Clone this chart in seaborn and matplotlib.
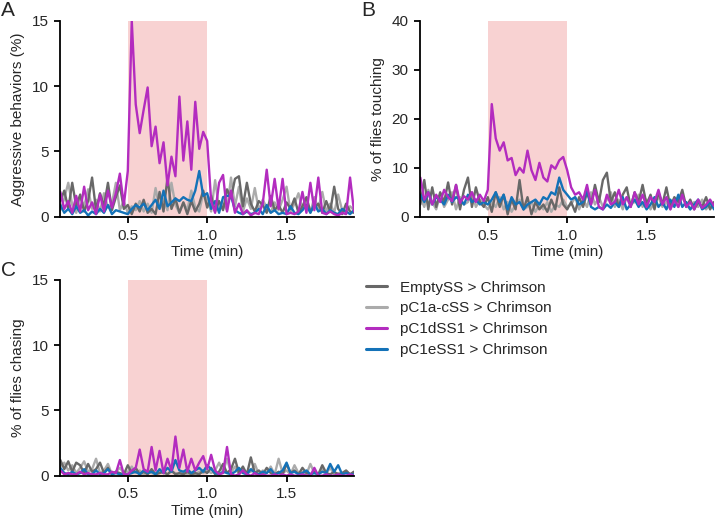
import numpy as np
import pandas as pd
import seaborn as sns
import matplotlib.pyplot as plt

# time axis (min), one sample every 1.5 s
time_min = np.round(np.linspace(0.075, 1.925, 75), 3)
stim_window = (0.5, 1.0)

genotypes = ["EmptySS > Chrimson", "pC1a-cSS > Chrimson",
             "pC1dSS1 > Chrimson", "pC1eSS1 > Chrimson"]

# A: aggressive behaviors (%)
agg_empty = [1.2, 2.0, 0.6, 2.6, 0.8, 1.7, 0.4, 1.2, 3.0, 0.5, 1.8, 0.8, 2.6, 0.5, 1.5, 2.4, 0.6,
             0.9, 0.2, 1.0, 0.4, 1.3, 0.3, 0.6, 0.2, 1.9, 0.4, 3.0, 0.6, 1.4, 0.3, 1.1, 0.2, 1.2, 0.4, 1.0, 2.0, 0.7,
             1.6, 0.4, 1.2, 0.5, 2.1, 1.4, 2.9, 3.1, 0.8, 2.6, 1.0, 0.4, 1.2, 0.9, 0.3, 1.6, 0.5, 0.9, 0.3,
             1.1, 0.6, 1.4, 0.3, 0.8, 1.5, 0.4, 0.7, 1.0, 0.3, 1.2, 0.4, 2.3, 0.6, 0.2, 1.0, 0.4, 0.3]
agg_pc1ac = [0.5, 1.4, 2.6, 0.9, 0.3, 1.6, 0.8, 2.1, 0.6, 1.3, 0.4, 1.8, 0.7, 1.0, 2.6, 0.5, 1.2,
             0.3, 0.8, 0.5, 1.2, 0.4, 1.0, 0.3, 2.2, 0.6, 1.4, 0.5, 2.6, 0.9, 0.3, 1.1, 0.5, 2.0, 0.7, 0.4, 1.8, 1.3,
             0.4, 2.8, 0.6, 1.0, 0.5, 3.0, 0.8, 2.3, 0.4, 1.4, 0.6, 2.2, 0.5, 1.3, 0.7, 0.3, 1.1, 0.5, 1.3,
             2.3, 0.4, 1.0, 1.8, 0.5, 1.2, 0.3, 1.5, 0.6, 1.9, 0.4, 1.0, 0.3, 1.7, 0.5, 0.3, 0.8, 0.5]
agg_pc1d = [1.9, 0.6, 1.2, 0.3, 1.6, 0.4, 2.3, 0.5, 1.1, 0.2, 1.7, 0.4, 2.0, 0.7, 1.8, 3.3, 0.9,
            3.5, 15.0, 8.6, 6.4, 8.2, 9.9, 5.4, 6.9, 4.1, 5.7, 2.4, 4.6, 3.1, 9.2, 4.3, 7.3, 3.6, 8.8, 5.2, 6.5, 5.8,
            1.2, 0.3, 2.6, 3.2, 0.4, 2.0, 0.3, 1.0, 0.2, 0.5, 0.1, 0.3, 0.2, 1.0, 3.6, 0.8, 2.9, 0.6, 2.9,
            0.2, 0.3, 0.2, 0.4, 1.9, 0.3, 2.6, 0.5, 3.0, 0.3, 0.2, 0.4, 0.2, 0.1, 0.3, 0.2, 3.0, 0.4]
agg_pc1e = [0.9, 0.3, 0.6, 0.2, 0.8, 0.3, 0.5, 0.1, 0.4, 0.2, 0.6, 0.3, 0.9, 0.2, 0.5, 0.4, 0.3,
            0.2, 0.6, 0.9, 0.7, 1.0, 0.5, 0.9, 1.3, 0.6, 2.0, 0.8, 1.1, 1.4, 1.2, 1.5, 1.3, 1.2, 2.0, 3.5, 1.6, 1.8,
            0.6, 1.2, 0.3, 1.5, 1.6, 1.6, 0.5, 0.3, 0.2, 0.4, 0.2, 0.3, 0.6, 0.2, 0.9, 0.3, 0.5, 0.2, 0.3,
            0.2, 0.8, 0.3, 0.2, 0.5, 0.9, 0.3, 1.0, 0.4, 0.6, 0.2, 0.5, 0.3, 0.2, 0.6, 0.4, 0.2, 0.5]

# B: % of flies touching
touch_empty = [2.5, 7.5, 1.5, 6.0, 2.0, 5.0, 3.0, 7.0, 2.5, 6.5, 1.5, 5.5, 8.0, 2.0, 6.0, 3.0, 2.0,
               4.0, 1.0, 5.0, 2.0, 4.5, 0.5, 3.5, 1.5, 7.5, 1.5, 4.0, 0.5, 3.0, 1.5, 2.5, 1.0, 3.5, 1.5, 6.0, 2.5, 1.5,
               3.0, 1.0, 4.0, 2.0, 5.0, 2.5, 6.5, 3.0, 7.5, 9.0, 3.0, 5.0, 2.0, 4.5, 6.0, 2.0, 5.0, 3.0, 6.5,
               2.5, 4.5, 1.5, 5.0, 2.5, 6.0, 2.0, 4.0, 3.0, 5.5, 2.0, 3.5, 1.5, 3.0, 2.0, 4.0, 1.5, 3.0]
touch_pc1ac = [4.0, 2.0, 5.5, 3.0, 1.5, 4.5, 2.0, 3.5, 5.0, 1.5, 4.0, 2.5, 3.0, 5.0, 2.0, 3.5, 2.5,
               1.5, 3.0, 2.0, 4.0, 1.5, 3.0, 1.0, 2.5, 3.5, 1.5, 2.0, 3.0, 1.0, 2.5, 1.5, 3.0, 1.0, 2.5, 2.0, 3.5, 2.0,
               2.5, 4.0, 1.5, 3.5, 2.0, 5.0, 2.5, 4.0, 2.0, 3.5, 5.0, 2.0, 3.5, 1.5, 4.0, 2.5, 3.0, 4.5, 2.0,
               3.5, 1.5, 3.0, 4.0, 2.0, 3.0, 1.5, 3.5, 2.0, 4.0, 2.5, 1.5, 3.0, 2.0, 3.5, 1.5, 2.5, 2.0]
touch_pc1d = [8.0, 3.5, 5.0, 2.5, 4.5, 3.0, 5.5, 4.0, 3.2, 6.5, 2.8, 4.2, 3.5, 5.0, 3.0, 4.5, 3.2,
              5.5, 23.0, 16.0, 13.5, 15.2, 11.5, 12.0, 8.5, 10.0, 9.0, 13.5, 9.5, 7.5, 11.0, 8.0, 7.2, 10.5, 9.8, 11.5, 12.2, 9.5,
              6.0, 4.5, 5.0, 3.5, 6.5, 2.5, 5.5, 2.0, 1.5, 4.5, 2.5, 3.0, 5.5, 2.5, 4.0, 2.0, 5.0, 2.5, 4.5,
              2.0, 4.0, 3.0, 5.5, 2.5, 4.0, 1.5, 3.5, 2.0, 4.5, 2.0, 3.0, 1.5, 3.5, 1.8, 2.5, 3.5, 2.2]
touch_pc1e = [4.5, 3.0, 5.0, 2.5, 4.0, 3.5, 2.5, 4.5, 3.0, 4.0, 3.5, 2.5, 4.5, 3.0, 3.5, 2.5, 3.0,
              2.5, 3.5, 5.0, 3.0, 4.5, 1.5, 4.0, 2.5, 3.0, 1.5, 2.5, 3.0, 3.5, 2.5, 4.0, 3.5, 5.0, 4.5, 8.0, 5.5, 4.5,
              3.5, 4.0, 2.5, 3.0, 5.5, 2.0, 1.5, 2.0, 1.5, 2.5, 1.8, 3.0, 2.0, 4.0, 1.5, 2.5, 3.5, 2.0, 3.0,
              1.5, 2.5, 4.0, 2.0, 3.0, 1.5, 3.5, 2.0, 4.5, 2.0, 3.0, 1.5, 2.5, 3.5, 1.5, 2.0, 3.0, 1.5]

# C: % of flies chasing
chase_empty = [1.2, 0.5, 1.1, 0.3, 1.0, 0.8, 0.2, 0.9, 0.3, 0.5, 1.0, 0.2, 0.6, 0.1, 0.3, 0.2, 0.1,
               0.8, 0.2, 0.6, 0.1, 0.3, 0.1, 0.5, 0.1, 0.2, 0.3, 0.1, 0.4, 0.1, 0.2, 0.1, 0.3, 0.1, 0.2, 0.1, 0.4, 0.2,
               0.6, 0.1, 0.3, 0.9, 0.2, 0.5, 1.3, 0.2, 0.7, 0.1, 1.4, 0.2, 0.4, 0.1, 0.6, 0.2, 0.1, 0.3, 0.1,
               0.9, 0.2, 0.4, 0.1, 0.6, 0.2, 0.1, 0.3, 0.1, 0.8, 0.2, 0.1, 0.3, 0.1, 0.2, 0.4, 0.1, 0.3]
chase_pc1ac = [0.7, 1.0, 0.4, 0.8, 0.2, 0.6, 1.1, 0.3, 0.5, 1.3, 0.2, 0.4, 0.9, 0.1, 0.3, 0.6, 0.2,
               0.3, 0.7, 0.2, 0.4, 0.1, 0.3, 0.2, 0.1, 0.4, 0.2, 0.1, 0.3, 0.2, 0.1, 0.3, 0.1, 0.2, 0.1, 0.3, 0.2, 0.4,
               0.2, 0.4, 1.0, 0.3, 1.3, 0.2, 0.7, 0.1, 0.5, 0.2, 0.3, 0.9, 0.1, 0.4, 0.2, 0.7, 0.1, 1.3, 0.2,
               0.4, 0.1, 0.8, 0.2, 0.3, 0.1, 0.9, 0.2, 0.1, 0.5, 0.2, 0.6, 0.1, 0.2, 0.1, 0.3, 0.1, 0.3]
chase_pc1d = [0.4, 0.1, 0.2, 0.1, 0.1, 0.3, 0.1, 0.2, 0.1, 0.1, 0.2, 0.1, 0.1, 0.3, 0.2, 1.2, 0.1,
              0.1, 0.4, 0.6, 2.0, 0.5, 0.3, 2.2, 0.4, 1.9, 0.2, 1.3, 0.4, 3.0, 0.6, 2.0, 0.3, 1.3, 0.4, 1.0, 1.5, 0.5,
              1.6, 0.4, 0.1, 0.2, 2.2, 0.1, 0.0, 0.1, 0.4, 0.1, 0.0, 0.2, 0.0, 0.1, 0.0, 0.0, 0.1, 0.0, 0.1,
              0.0, 0.1, 0.0, 0.0, 0.1, 0.0, 0.0, 0.6, 0.0, 0.0, 0.1, 0.0, 0.0, 0.1, 0.0, 0.0, 0.1, 0.0]
chase_pc1e = [0.6, 0.2, 0.1, 0.3, 0.1, 0.2, 0.5, 0.1, 0.1, 0.4, 0.1, 0.2, 0.5, 0.1, 0.2, 0.1, 0.1,
              0.1, 0.2, 0.3, 0.1, 0.4, 0.2, 0.3, 0.1, 0.5, 0.2, 0.6, 0.3, 1.2, 0.4, 0.3, 0.5, 0.2, 0.4, 0.6, 0.3, 0.8,
              0.5, 0.2, 0.1, 0.3, 0.2, 0.1, 0.3, 0.6, 0.2, 0.1, 0.5, 0.2, 0.1, 0.3, 0.2, 0.5, 0.1, 0.2, 0.4,
              1.0, 0.2, 0.3, 0.1, 0.2, 0.4, 0.1, 0.2, 0.1, 0.3, 0.2, 0.9, 0.3, 0.8, 0.1, 0.2, 0.1, 0.1]

palette = {"EmptySS > Chrimson": "#686868", "pC1a-cSS > Chrimson": "#ababab",
           "pC1dSS1 > Chrimson": "#b32cbf", "pC1eSS1 > Chrimson": "#1472b8"}
draw_order = ["pC1a-cSS > Chrimson", "EmptySS > Chrimson",
              "pC1eSS1 > Chrimson", "pC1dSS1 > Chrimson"]


def long_frame(series):
    rows = []
    for name, vals in zip(genotypes, series):
        rows.append(pd.DataFrame({"time": time_min, "value": vals, "genotype": name}))
    return pd.concat(rows, ignore_index=True)


sns.set_theme(style="ticks")
plt.rcParams["font.family"] = ["Liberation Sans", "DejaVu Sans"]
plt.rcParams["axes.linewidth"] = 1.3
plt.rcParams["xtick.major.width"] = 1.3
plt.rcParams["ytick.major.width"] = 1.3

fig = plt.figure(figsize=(7.19, 5.21), dpi=100)
ax_a = fig.add_axes([0.0839, 0.584, 0.4085, 0.376])
ax_b = fig.add_axes([0.5846, 0.584, 0.4085, 0.376])
ax_c = fig.add_axes([0.0839, 0.087, 0.4085, 0.3756])

panels = [
    (ax_a, [agg_empty, agg_pc1ac, agg_pc1d, agg_pc1e], "Aggressive behaviors (%)", 15, [0, 5, 10, 15], "A"),
    (ax_b, [touch_empty, touch_pc1ac, touch_pc1d, touch_pc1e], "% of flies touching", 40, [0, 10, 20, 30, 40], "B"),
    (ax_c, [chase_empty, chase_pc1ac, chase_pc1d, chase_pc1e], "% of flies chasing", 15, [0, 5, 10, 15], "C"),
]

for ax, series, ylabel, ymax, yticks, letter in panels:
    ax.axvspan(*stim_window, color="#f8d2d2", lw=0, zorder=0)
    df = long_frame(series)
    sns.lineplot(data=df, x="time", y="value", hue="genotype", hue_order=draw_order,
                 palette=palette, lw=1.7, ax=ax, legend=False)
    ax.set_xlim(0.075, 1.925)
    ax.set_ylim(0, ymax)
    ax.set_yticks(yticks)
    ax.set_xticks([0.5, 1.0, 1.5])
    ax.set_xticklabels(["0.5", "1.0", "1.5"])
    ax.set_xlabel("Time (min)", fontsize=11, labelpad=2)
    ax.set_ylabel(ylabel, fontsize=11, labelpad=5)
    ax.tick_params(labelsize=11, length=4.5, color="black", pad=4)
    sns.despine(ax=ax)
    for sp in ax.spines.values():
        sp.set_color("black")

fig.text(0.002, 0.998, "A", fontsize=15, va="top")
fig.text(0.502, 0.998, "B", fontsize=15, va="top")
fig.text(0.002, 0.499, "C", fontsize=15, va="top")

handles = [plt.Line2D([], [], color=palette[g], lw=2.2) for g in genotypes]
fig.legend(handles, genotypes, loc="upper left", bbox_to_anchor=(0.490, 0.488),
           frameon=False, fontsize=11, handlelength=1.4, handletextpad=0.8,
           labelspacing=0.45)

fig.savefig("out.png", dpi=100)
